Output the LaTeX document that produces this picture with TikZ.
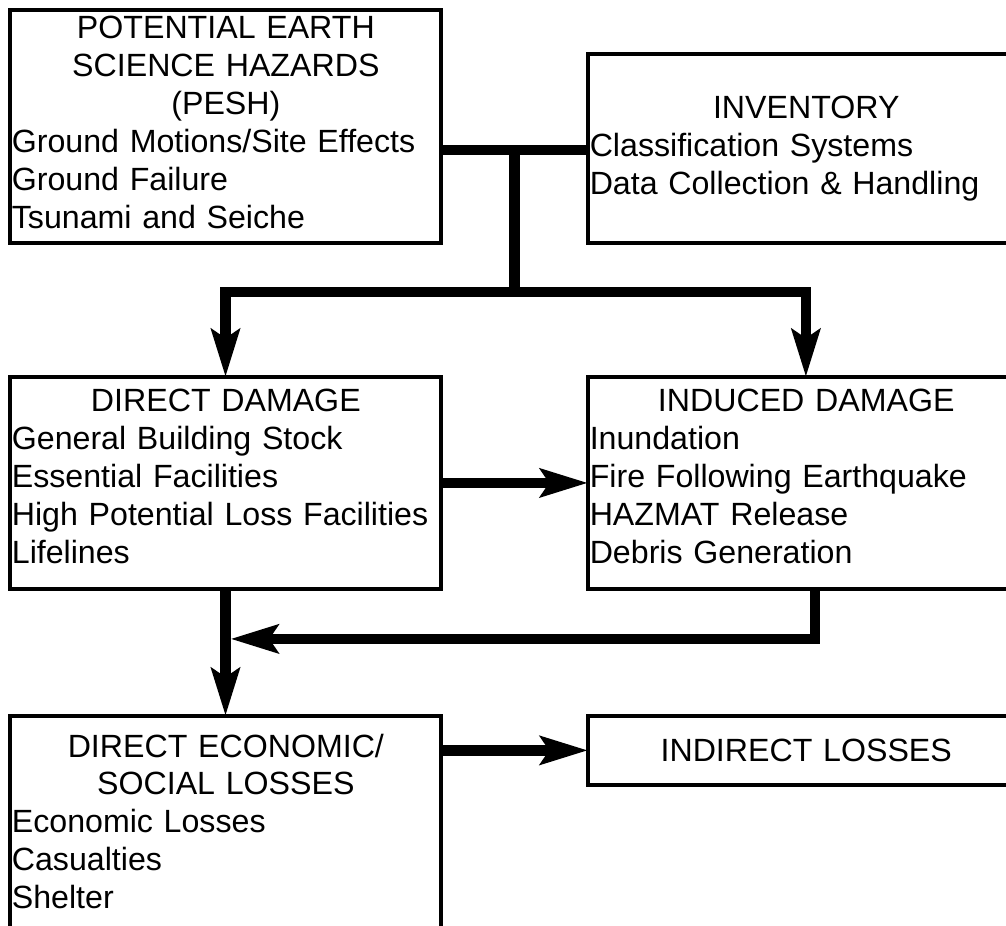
\documentclass[tikz,border=0pt]{standalone}
\usepackage{fontspec}
\setmainfont{Liberation Sans}
\usetikzlibrary{
	arrows.meta,
	positioning,
	calc
}
\setlength{\parindent}{0pt}

\begin{document}
\begin{tikzpicture}[
			x=0.02cm, y=-0.02cm,
			font=\fontsize{18.3}{21.6}\selectfont,
			box/.style={draw, line width=1.9pt, outer sep=0pt, inner sep=0pt},
			lft/.style={box, minimum width=8.62cm},
			rgt/.style={box, minimum width=8.72cm},
			txt/.style={anchor=north west, inner xsep=0.85pt, inner ysep=0pt},
			>={Stealth[length=27pt, width=16pt, inset=5pt]},
			fl/.style={line width=6pt},
			fla/.style={fl, ->}
		]
		\useasboundingbox (0,0) rectangle (1006,925);
		\clip (0,0) rectangle (1006,925);

		% boxes
		\node[lft, minimum height=4.66cm] (pesh) at (225.5,126.5) {};
		\node[rgt, minimum height=3.78cm, right=2.94cm of pesh.south east, anchor=south west] (inv) {};
		\node[lft, minimum height=4.24cm, below=2.68cm of pesh] (direct) {};
		\node[rgt, minimum height=4.24cm, right=2.94cm of direct] (induced) {};
		\node[lft, draw=none, minimum height=4.68cm, below=2.54cm of direct] (econ) {};
		\node[rgt, minimum height=1.38cm, right=2.94cm of econ.north east, anchor=north west] (indirect) {};
		\draw[line width=1.9pt] (econ.south west) -- (econ.north west) -- (econ.north east) -- (econ.south east);

		% texts
		\node[txt, text width=8.56cm] (pesh-t) at ($(pesh.north west)+(0,5.5)$)
			{\raggedright{\centering POTENTIAL EARTH\\ SCIENCE HAZARDS\\ (PESH)\par}Ground Motions/Site Effects\\ Ground Failure\\ Tsunami and Seiche};
		\node[txt, text width=8.66cm] (inv-t) at ($(inv.north west)+(0,41.5)$)
			{\raggedright{\centering INVENTORY\par}Classification Systems\\ Data Collection \& Handling};
		\node[txt, text width=8.56cm] (direct-t) at ($(direct.north west)+(0,11.5)$)
			{\raggedright{\centering DIRECT DAMAGE\par}General Building Stock\\ Essential Facilities\\ High Potential Loss Facilities\\ Lifelines};
		\node[txt, text width=8.66cm] (induced-t) at ($(induced.north west)+(0,11.5)$)
			{\raggedright{\centering INDUCED DAMAGE\par}Inundation\\ Fire Following Earthquake\\ HAZMAT Release\\ Debris Generation};
		\node[txt, text width=8.56cm] (econ-t) at ($(econ.north west)+(0,17.5)$)
			{\raggedright{\centering DIRECT ECONOMIC/\\ SOCIAL LOSSES\par}Economic Losses\\ Casualties\\ Shelter};
		\node[txt, text width=8.66cm] (indirect-t) at ($(indirect.north west)+(0,22.5)$)
			{{\centering INDIRECT LOSSES\par}};

		% connectors
		\coordinate (j) at (514.5,150);
		\coordinate (split) at (514.5,292);
		\coordinate (merge) at ($(direct.south)+(5,50)$);

		\draw[fl] (pesh.east |- j) -- (inv.west |- j);
		\draw[fl] (j) -- (split);
		\draw[fla] (split) -| (direct.north);
		\draw[fla] (split) -| (induced.north);
		\draw[fla] (direct.east) -- (induced.west);
		\draw[fla] ($(induced.south)+(9,0)$) |- (merge);
		\draw[fla] (direct.south) -- (econ.north);
		\draw[fla] (indirect.west -| econ.east) -- (indirect.west);
	\end{tikzpicture}
\end{document}
